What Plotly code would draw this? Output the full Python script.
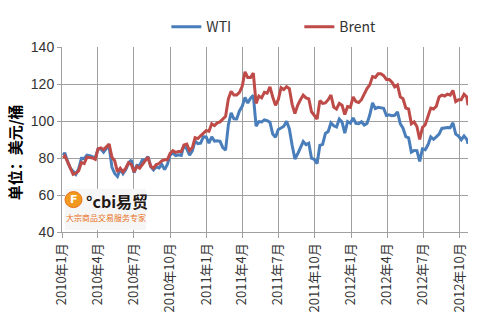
import pandas as pd
import plotly.graph_objects as go

# ---------------- data (weekly Friday closes) ----------------
wti_2010 = [82.8, 78.0, 74.5, 72.9,
            71.2, 74.1, 79.8, 79.7,
            81.5, 81.2, 80.7, 80.0,
            84.9, 84.9, 83.2, 85.1, 86.2,
            75.1, 71.6, 70.0, 74.0,
            71.5, 73.8, 77.2, 78.9,
            72.1, 76.1, 76.0, 79.0, 78.9,
            80.7, 75.4, 73.5, 75.2,
            74.6, 76.5, 73.7, 76.5,
            81.6, 82.7, 81.3, 81.7, 81.4,
            86.9, 84.9, 81.5, 83.8,
            89.2, 87.8, 88.0, 91.5, 91.4]
wti_2011 = [88.0, 91.5, 89.1, 89.3,
            89.0, 85.6, 84.3, 97.9,
            104.4, 101.2, 101.1, 105.4,
            107.9, 112.8, 109.7, 112.3, 113.9,
            97.2, 99.7, 99.5, 100.6,
            100.2, 99.3, 93.0, 91.2,
            95.4, 96.2, 97.2, 99.9, 95.7,
            86.9, 79.5, 82.3, 85.4,
            88.9, 87.2, 88.0, 79.9, 79.2,
            77.0, 86.8, 87.4, 93.3,
            94.3, 99.0, 97.4, 96.8,
            101.0, 99.4, 93.5, 99.7, 98.8]
wti_2012 = [101.6, 98.7, 98.5, 99.6,
            97.8, 98.7, 103.2, 109.8,
            106.7, 107.4, 107.1, 106.9, 103.0,
            103.3, 102.8, 103.1, 104.9,
            98.5, 96.1, 91.5, 90.9,
            83.2, 84.1, 84.0, 78.2, 84.9,
            84.5, 87.1, 91.4, 90.1,
            91.4, 92.9, 96.0, 96.3, 96.5,
            96.4, 99.0, 92.9, 91.9,
            89.9, 91.9, 90.1]

brent_2010 = [81.2, 78.0, 74.6, 71.2,
              71.8, 73.0, 77.6, 77.0,
              80.5, 80.3, 80.0, 79.3,
              84.9, 85.5, 84.5, 86.0, 87.5,
              80.5, 78.5, 72.5, 74.5,
              72.5, 74.5, 77.5, 76.5,
              72.5, 75.5, 74.5, 76.5, 78.0,
              80.5, 75.5, 74.5, 76.5,
              77.0, 78.5, 79.0, 79.0,
              82.5, 84.0, 83.0, 83.5, 83.5,
              87.0, 87.5, 84.0, 85.5,
              91.0, 90.5, 92.0, 93.5, 94.8]
brent_2011 = [94.5, 98.5, 97.5, 99.0,
              99.5, 101.0, 102.5, 112.0,
              116.0, 114.0, 114.0, 115.5,
              118.7, 126.6, 123.5, 123.5, 125.9,
              109.5, 113.5, 112.5, 115.5,
              115.0, 118.5, 113.0, 108.5,
              111.5, 118.0, 117.0, 118.5, 117.5,
              109.0, 104.0, 108.5, 111.5,
              114.0, 112.5, 112.0, 105.0, 102.8,
              101.0, 111.0, 109.5, 109.8,
              111.5, 114.0, 107.5, 106.5,
              109.5, 108.5, 103.5, 107.8, 107.4]
brent_2012 = [113.0, 110.5, 110.0, 111.5,
              114.5, 117.5, 119.5, 124.0,
              123.5, 125.5, 125.5, 124.5, 122.5,
              122.5, 121.0, 118.5, 119.5,
              113.0, 112.0, 107.0, 106.5,
              98.5, 99.5, 97.0, 90.0, 96.5,
              98.0, 102.0, 107.0, 106.5,
              108.0, 113.0, 114.0, 113.5, 114.5,
              114.0, 116.5, 110.5, 111.5,
              111.5, 114.5, 113.0]

start_date, start_wti, start_brent = "2010-01-04", 81.5, 80.1
end_date, end_wti, end_brent = "2012-10-22", 87.7, 108.5

tick_vals = ["2010-01-01", "2010-04-01", "2010-07-01", "2010-10-01",
             "2011-01-01", "2011-04-01", "2011-07-01", "2011-10-01",
             "2012-01-01", "2012-04-01", "2012-07-01", "2012-10-01"]
tick_text = ["2010年1月", "2010年4月", "2010年7月", "2010年10月",
             "2011年1月", "2011年4月", "2011年7月", "2011年10月",
             "2012年1月", "2012年4月", "2012年7月", "2012年10月"]

# ---------------- build ----------------
fridays = list(pd.date_range("2010-01-08", "2012-10-19", freq="W-FRI"))
dates = [pd.Timestamp(start_date)] + fridays + [pd.Timestamp(end_date)]
wti = [start_wti] + wti_2010 + wti_2011 + wti_2012 + [end_wti]
brent = [start_brent] + brent_2010 + brent_2011 + brent_2012 + [end_brent]
n = min(len(dates), len(wti), len(brent))

FONT = "Noto Sans CJK SC"
GRID = "#A0A0A0"

fig = go.Figure()
fig.add_trace(go.Scatter(x=dates[:n], y=wti[:n], name="WTI", mode="lines",
                         line=dict(color="#4A7EBB", width=3)))
fig.add_trace(go.Scatter(x=dates[:n], y=brent[:n], name="Brent", mode="lines",
                         line=dict(color="#BE4B48", width=3)))

fig.update_layout(
    width=479, height=325,
    margin=dict(l=62, r=11, t=35, b=93),
    paper_bgcolor="white", plot_bgcolor="white",
    font=dict(family=FONT, size=13, color="#333333"),
    showlegend=True,
    legend=dict(orientation="h", x=0.257, xanchor="left", y=1.107, yanchor="middle",
                font=dict(size=14, color="#333333"), entrywidth=88,
                bgcolor="rgba(0,0,0,0)", itemwidth=30),
    xaxis=dict(type="date", range=["2010-01-01", "2012-10-22"],
               tickmode="array", tickvals=tick_vals, ticktext=tick_text,
               tickangle=-90, tickfont=dict(size=13, color="#333333", family=FONT),
               showgrid=True, gridcolor=GRID, gridwidth=1,
               showline=True, linecolor=GRID, linewidth=1,
               ticks="outside", ticklen=5, tickcolor=GRID, zeroline=False),
    yaxis=dict(range=[40, 140], dtick=20, tick0=40,
               tickfont=dict(size=14, color="#333333", family="Liberation Sans"),
               showgrid=True, gridcolor=GRID, gridwidth=1,
               showline=True, linecolor=GRID, linewidth=1,
               ticks="outside", ticklen=4, tickcolor=GRID, zeroline=False),
)

# y-axis title
fig.add_annotation(text="<b>单位：美元/桶</b>", textangle=-90, showarrow=False,
                   xref="paper", yref="paper", x=-0.116, y=0.43,
                   xanchor="center", yanchor="middle",
                   font=dict(family=FONT, size=15, color="#000000"))

# logo watermark (approximation)
fig.add_shape(type="rect", xref="paper", yref="paper",
              x0=(65 - 62) / 406, x1=(146 - 62) / 406,
              y0=(232 - 230) / 197, y1=(232 - 186) / 197,
              fillcolor="#F6F6F6", line=dict(width=0), layer="above")
fig.add_shape(type="circle", xref="paper", yref="paper",
              x0=(65 - 62) / 406, x1=(82 - 62) / 406,
              y0=(232 - 206) / 197, y1=(232 - 189) / 197,
              fillcolor="#F29A1F", line=dict(color="#E8701A", width=1), layer="above")
fig.add_annotation(text="<b>F</b>", showarrow=False, xref="paper", yref="paper",
                   x=(74 - 62) / 406, y=(232 - 197.5) / 197, xanchor="center", yanchor="middle",
                   font=dict(family="DejaVu Sans", size=11, color="white"))
fig.add_annotation(text="<b>°cbi易贸</b>", showarrow=False, xref="paper", yref="paper",
                   x=(84 - 62) / 406, y=(232 - 199) / 197, xanchor="left", yanchor="middle",
                   font=dict(family=FONT, size=16, color="#231815"))
fig.add_annotation(text="大宗商品交易服务专家", showarrow=False, xref="paper", yref="paper",
                   x=(106 - 62) / 406, y=(232 - 217) / 197, xanchor="center", yanchor="middle",
                   font=dict(family=FONT, size=8, color="#E8701A"))

fig.write_html("out.html")
